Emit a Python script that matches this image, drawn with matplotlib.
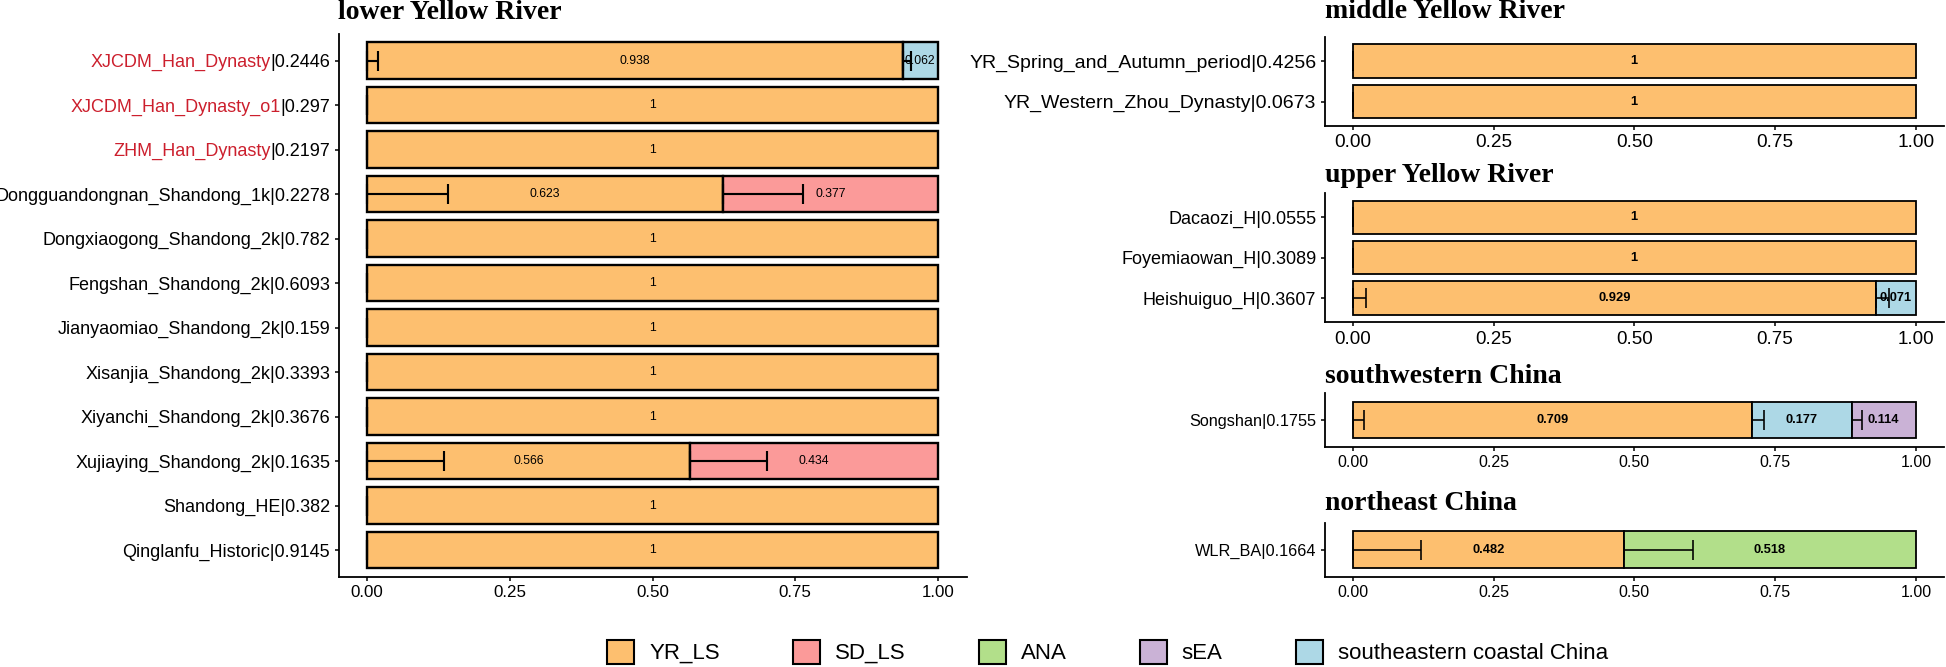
import matplotlib
matplotlib.use('Agg')
import matplotlib.pyplot as plt
from matplotlib.patches import Patch
import numpy as np

plt.rcParams['font.family'] = ['Liberation Sans', 'DejaVu Sans']

# sources (legend order) and colours
sources = ['YR_LS', 'SD_LS', 'ANA', 'sEA', 'southeastern coastal China']
src_colors = ['#FDBF6F', '#FB9A99', '#B2DF8A', '#CAB2D6', '#ADD8E6']
stack_order = ['YR_LS', 'SD_LS', 'ANA', 'southeastern coastal China', 'sEA']
xtick_vals = [0, 0.25, 0.5, 0.75, 1.0]
xtick_labels = ['0.00', '0.25', '0.50', '0.75', '1.00']

# lower Yellow River
lower_names = ['XJCDM_Han_Dynasty', 'XJCDM_Han_Dynasty_o1', 'ZHM_Han_Dynasty',
               'Dongguandongnan_Shandong_1k', 'Dongxiaogong_Shandong_2k',
               'Fengshan_Shandong_2k', 'Jianyaomiao_Shandong_2k', 'Xisanjia_Shandong_2k',
               'Xiyanchi_Shandong_2k', 'Xujiaying_Shandong_2k', 'Shandong_HE',
               'Qinglanfu_Historic']
lower_p = ['0.2446', '0.297', '0.2197', '0.2278', '0.782', '0.6093', '0.159',
           '0.3393', '0.3676', '0.1635', '0.382', '0.9145']
lower_red = [True, True, True, False, False, False, False, False, False, False, False, False]
lower_YR_LS = [0.938, 1, 1, 0.623, 1, 1, 1, 1, 1, 0.566, 1, 1]
lower_YR_LS_se = [0.020, 0, 0, 0.141, 0, 0, 0, 0, 0, 0.135, 0, 0]
lower_SD_LS = [0, 0, 0, 0.377, 0, 0, 0, 0, 0, 0.434, 0, 0]
lower_SD_LS_se = [0, 0, 0, 0.141, 0, 0, 0, 0, 0, 0.134, 0, 0]
lower_SEC = [0.062, 0, 0, 0, 0, 0, 0, 0, 0, 0, 0, 0]
lower_SEC_se = [0.014, 0, 0, 0, 0, 0, 0, 0, 0, 0, 0, 0]

# middle Yellow River
middle_names = ['YR_Spring_and_Autumn_period', 'YR_Western_Zhou_Dynasty']
middle_p = ['0.4256', '0.0673']
middle_YR_LS = [1, 1]
middle_YR_LS_se = [0, 0]

# upper Yellow River
upper_names = ['Dacaozi_H', 'Foyemiaowan_H', 'Heishuiguo_H']
upper_p = ['0.0555', '0.3089', '0.3607']
upper_YR_LS = [1, 1, 0.929]
upper_YR_LS_se = [0, 0, 0.024]
upper_SEC = [0, 0, 0.071]
upper_SEC_se = [0, 0, 0.024]

# southwestern China
sw_names = ['Songshan']
sw_p = ['0.1755']
sw_YR_LS = [0.709]
sw_YR_LS_se = [0.020]
sw_SEC = [0.177]
sw_SEC_se = [0.022]
sw_sEA = [0.114]
sw_sEA_se = [0.018]

# northeast China
ne_names = ['WLR_BA']
ne_p = ['0.1664']
ne_YR_LS = [0.482]
ne_YR_LS_se = [0.122]
ne_ANA = [0.518]
ne_ANA_se = [0.122]

color_of = dict(zip(sources, src_colors))
W, H = 1946, 667

fig = plt.figure(figsize=(W / 100, H / 100), dpi=100)


def px_rect(x0, x1, y0, y1):
    return [x0 / W, 1 - y1 / H, (x1 - x0) / W, (y1 - y0) / H]


def draw_panel(rect, title, names, pvals, red, comps, ysize, xsize, vsize, vweight, tpad, lw):
    ax = fig.add_axes(rect)
    n = len(names)
    pos = np.arange(n)
    left = np.zeros(n)
    for src in stack_order:
        if src not in comps:
            continue
        vals = np.array(comps[src][0], float)
        se = np.array(comps[src][1], float)
        m = vals > 0
        bars = ax.barh(pos[m], vals[m], left=left[m], height=0.82,
                       color=color_of[src], edgecolor='black', linewidth=lw, zorder=2)
        ax.errorbar(left[m], pos[m], xerr=[np.zeros(m.sum()), se[m]], fmt='none',
                    ecolor='black', elinewidth=lw * 0.9, capsize=7,
                    capthick=lw * 0.9, zorder=3)
        ax.bar_label(bars, labels=[f'{v:g}' for v in vals[m]], label_type='center',
                     fontsize=vsize, fontweight=vweight, zorder=4)
        left = left + vals

    ax.set_xlim(-0.05, 1.05)
    ax.set_ylim(n - 1 + 0.6, -0.6)
    ax.set_xticks(xtick_vals, labels=xtick_labels, fontsize=xsize)
    labels = [('|' + p) if r else (nm + '|' + p) for nm, p, r in zip(names, pvals, red)]
    ax.set_yticks(pos, labels=labels, fontsize=ysize)
    for s in ['top', 'right']:
        ax.spines[s].set_visible(False)
    for s in ['left', 'bottom']:
        ax.spines[s].set_linewidth(1.3)
    ax.tick_params(axis='both', length=3, width=1.1, pad=3)
    ax.set_title(title, loc='left', pad=tpad, fontsize=20, fontweight='bold',
                 family='Liberation Serif')

    ticklabels = ax.get_yticklabels()
    for i, r in enumerate(red):
        if r:
            ax.annotate(names[i], xy=(0, 0), xycoords=ticklabels[i], ha='right',
                        va='bottom', fontsize=ysize, color='#CC1F2D')
    return ax


draw_panel(px_rect(338.5, 966.5, 34, 576.7), 'lower Yellow River',
           lower_names, lower_p, lower_red,
           {'YR_LS': (lower_YR_LS, lower_YR_LS_se),
            'SD_LS': (lower_SD_LS, lower_SD_LS_se),
            'southeastern coastal China': (lower_SEC, lower_SEC_se)},
           13, 12.2, 8.8, 'normal', 10.6, 1.7)

draw_panel(px_rect(1324.6, 1944, 36.6, 126), 'middle Yellow River',
           middle_names, middle_p, [False] * 2,
           {'YR_LS': (middle_YR_LS, middle_YR_LS_se)},
           14, 13.7, 9.3, 'bold', 13.2, 1.3)

draw_panel(px_rect(1324.6, 1944, 193, 322.3), 'upper Yellow River',
           upper_names, upper_p, [False] * 3,
           {'YR_LS': (upper_YR_LS, upper_YR_LS_se),
            'southeastern coastal China': (upper_SEC, upper_SEC_se)},
           13, 13.5, 9.3, 'bold', 8.1, 1.3)

draw_panel(px_rect(1324.6, 1944, 393, 446.7), 'southwestern China',
           sw_names, sw_p, [False],
           {'YR_LS': (sw_YR_LS, sw_YR_LS_se),
            'southeastern coastal China': (sw_SEC, sw_SEC_se),
            'sEA': (sw_sEA, sw_sEA_se)},
           11.7, 11.5, 9.3, 'bold', 7.2, 1.3)

draw_panel(px_rect(1324.6, 1944, 522.7, 576.7), 'northeast China',
           ne_names, ne_p, [False],
           {'YR_LS': (ne_YR_LS, ne_YR_LS_se),
            'ANA': (ne_ANA, ne_ANA_se)},
           11.7, 11.5, 9.3, 'bold', 9.1, 1.3)

handles = [Patch(facecolor=c, edgecolor='black', linewidth=1.5) for c in src_colors]
fig.legend(handles, sources, loc='center', bbox_to_anchor=(1107.5 / W, 1 - 652 / H),
           ncol=5, frameon=False, fontsize=16, handlelength=1.22, handleheight=1.26,
           handletextpad=0.68, columnspacing=3.28)

fig.savefig('out.png', dpi=100)
